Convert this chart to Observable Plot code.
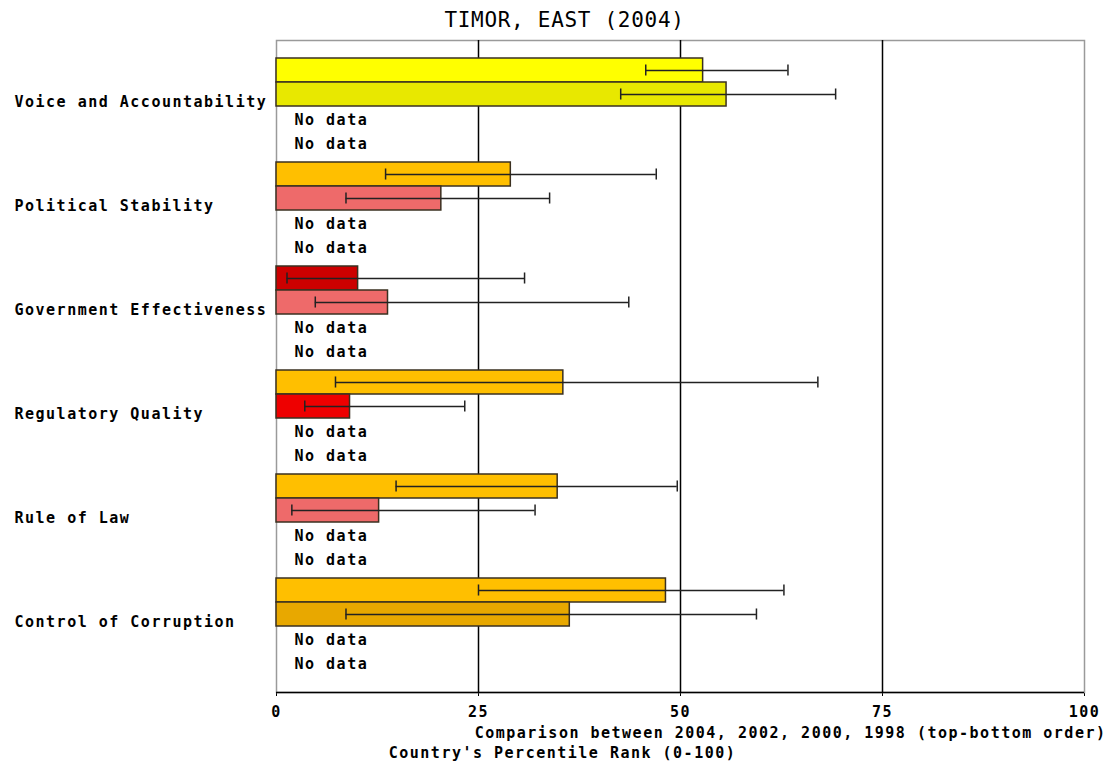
<!DOCTYPE html>
<html>
<head>
<meta charset="utf-8">
<script src="https://cdn.jsdelivr.net/npm/d3@7"></script>
<script src="https://cdn.jsdelivr.net/npm/@observablehq/plot@0.6"></script>
<style>
  html, body { margin: 0; padding: 0; background: #fff; }
  #chart svg { display: block; }
</style>
</head>
<body>
<div id="chart"></div>
<script>
// Governance indicators, percentile rank (0-100) with confidence ranges
const indicators = [
  "Voice and Accountability",
  "Political Stability",
  "Government Effectiveness",
  "Regulatory Quality",
  "Rule of Law",
  "Control of Corruption"
];
const years = [2004, 2002, 2000, 1998];

const rank2004 = [52.8, 29.0, 10.1, 35.5, 34.8, 48.2];
const low2004  = [45.7, 13.5,  1.3,  7.3, 14.8, 25.0];
const high2004 = [63.3, 47.0, 30.7, 67.0, 49.6, 62.8];

const rank2002 = [55.7, 20.4, 13.8,  9.1, 12.7, 36.3];
const low2002  = [42.6,  8.6,  4.8,  3.5,  1.9,  8.6];
const high2002 = [69.2, 33.8, 43.6, 23.3, 32.0, 59.4];

// 2000 and 1998 have no estimates for this country
const rank2000 = [null, null, null, null, null, null];
const rank1998 = [null, null, null, null, null, null];

const xTicks = [0, 25, 50, 75, 100];

const titleText = "TIMOR, EAST (2004)";
const captionText = "Comparison between 2004, 2002, 2000, 1998 (top-bottom order)";
const axisText = "Country's Percentile Rank (0-100)";

// bar fills by year (rating colour of each estimate)
const fill2004 = ["#FFFF00", "#FFBF00", "#CC0000", "#FFBF00", "#FFBF00", "#FFBF00"];
const fill2002 = ["#E8E800", "#EE6A6A", "#EE6A6A", "#EE0000", "#EE6A6A", "#E8A800"];

// row layout, in units of one bar height
const pad = 0.75;        // space above first and below last group
const gap = 1 / 3;       // space between indicator groups
const perGroup = years.length;
const yMax = 2 * pad + indicators.length * perGroup + (indicators.length - 1) * gap;
const rowTop = (g, r) => pad + g * (perGroup + gap) + r;

const series = {
  2004: {rank: rank2004, low: low2004, high: high2004, fill: fill2004},
  2002: {rank: rank2002, low: low2002, high: high2002, fill: fill2002},
  2000: {rank: rank2000},
  1998: {rank: rank1998}
};

const rows = [];
indicators.forEach((name, g) => {
  years.forEach((year, r) => {
    const s = series[year];
    const v = s.rank[g];
    rows.push({
      indicator: name, year, g, r,
      rank: v,
      low: v == null ? null : s.low[g],
      high: v == null ? null : s.high[g],
      fill: v == null ? null : s.fill[g]
    });
  });
});
const withData = rows.filter(d => d.rank != null);
const noData = rows.filter(d => d.rank == null);

const bold = {fontFamily: "DejaVu Sans Mono", fontWeight: "bold", fontSize: 15};

const chart = Plot.plot({
  width: 1111,
  height: 767,
  marginLeft: 276,
  marginRight: 27,
  marginTop: 40,
  marginBottom: 75,
  style: {
    fontFamily: "DejaVu Sans Mono",
    fontSize: "15px",
    fontWeight: "bold",
    letterSpacing: "1.5px",
    color: "black",
    background: "white"
  },
  x: {
    domain: [0, 100],
    ticks: xTicks,
    tickFormat: d => String(d),
    tickSize: 4,
    tickPadding: 10,
    label: null
  },
  y: {domain: [0, yMax], reverse: true, axis: null},
  marks: [
    Plot.frame({stroke: "#9a9a9a", strokeWidth: 1.5}),
    Plot.ruleX(xTicks.slice(1, -1), {stroke: "black", strokeWidth: 1.5}),
    Plot.ruleY([yMax], {x1: 0, x2: 100, stroke: "black", strokeWidth: 1.5}),
    Plot.rect(withData, {
      x1: 0, x2: "rank",
      y1: d => rowTop(d.g, d.r), y2: d => rowTop(d.g, d.r) + 1,
      fill: "fill", stroke: "#3a3020", strokeWidth: 1.5
    }),
    Plot.ruleY(withData, {
      y: d => rowTop(d.g, d.r) + 0.5, x1: "low", x2: "high",
      stroke: "#222", strokeWidth: 1.5
    }),
    Plot.ruleX(withData, {
      x: "low", y1: d => rowTop(d.g, d.r) + 0.27, y2: d => rowTop(d.g, d.r) + 0.73,
      stroke: "#222", strokeWidth: 1.5
    }),
    Plot.ruleX(withData, {
      x: "high", y1: d => rowTop(d.g, d.r) + 0.27, y2: d => rowTop(d.g, d.r) + 0.73,
      stroke: "#222", strokeWidth: 1.5
    }),
    Plot.text(noData, {
      x: 0, y: d => rowTop(d.g, d.r) + 0.5, text: () => "No data",
      textAnchor: "start", dx: 18, dy: 1.5, ...bold, fill: "black"
    }),
    Plot.text(indicators, {
      x: 0, y: (d, i) => rowTop(i, 0) + 1.75, text: d => d,
      textAnchor: "start", dx: -262, dy: 1.5, ...bold, fill: "black"
    }),
    Plot.text([titleText], {
      frameAnchor: "top", lineAnchor: "middle", text: d => d, dx: -116, dy: -20,
      fontFamily: "DejaVu Sans Mono", fontWeight: "normal", fontSize: 21,
      fill: "black"
    }),
    Plot.text([captionText], {
      frameAnchor: "bottom-right", lineAnchor: "middle", text: d => d, textAnchor: "end",
      dx: 22, dy: 41, ...bold, fill: "black"
    }),
    Plot.text([axisText], {
      frameAnchor: "bottom", lineAnchor: "middle", text: d => d,
      dx: -118, dy: 61, ...bold, fill: "black"
    })
  ]
});

// the title uses tighter spacing than the rest of the chart text
d3.select(chart).selectAll("text")
  .filter(function () { return this.textContent === titleText; })
  .style("letter-spacing", "0.7px");

document.getElementById("chart").appendChild(chart);
</script>
</body>
</html>
